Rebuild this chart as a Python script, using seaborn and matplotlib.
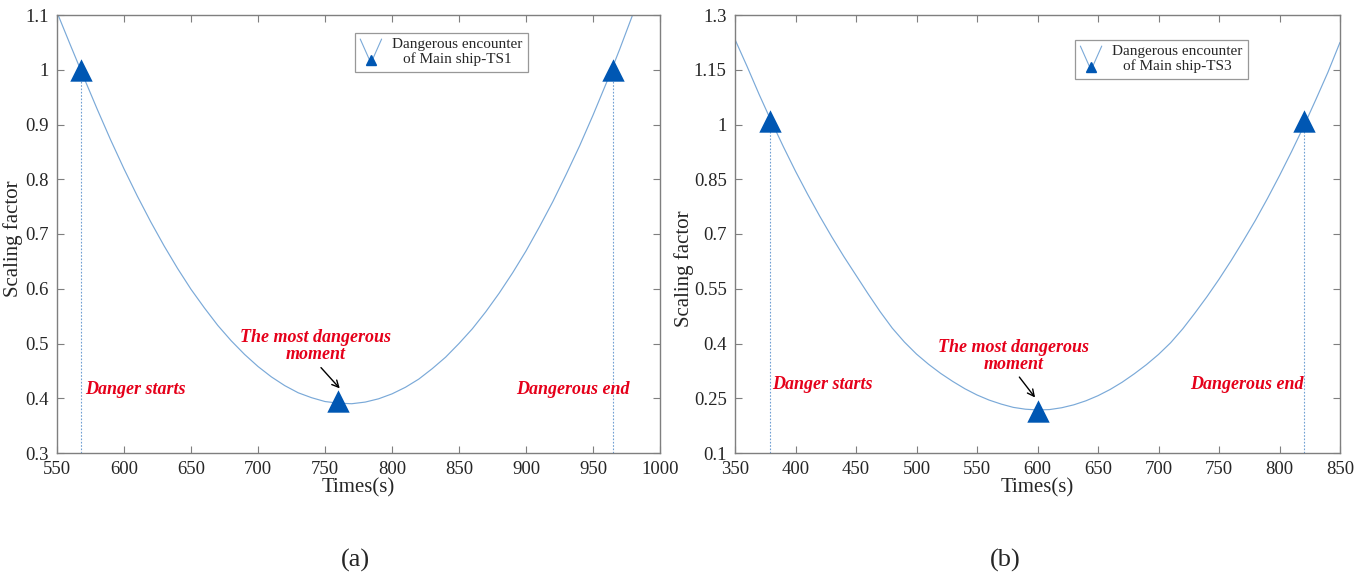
import matplotlib
matplotlib.use("Agg")
import matplotlib.pyplot as plt
import seaborn as sns
import pandas as pd
from matplotlib.legend_handler import HandlerBase
from matplotlib.lines import Line2D

sns.set_theme(style="white")
plt.rcParams['font.family'] = ['Liberation Serif', 'DejaVu Serif']

# ---------------- data ----------------
t1 = [550, 560, 570, 580, 590, 600, 610, 620, 630, 640, 650, 660, 670, 680, 690,
      700, 710, 720, 730, 740, 750, 760, 770, 780, 790, 800, 810, 820, 830, 840,
      850, 860, 870, 880, 890, 900, 910, 920, 930, 940, 950, 960, 970, 980, 990]
s1 = [1.105, 1.045, 0.986, 0.928, 0.872, 0.819, 0.769, 0.722, 0.678, 0.637,
      0.599, 0.565, 0.533, 0.505, 0.480, 0.458, 0.439, 0.423, 0.410, 0.401,
      0.394, 0.391, 0.390, 0.393, 0.399, 0.408, 0.420, 0.435, 0.454, 0.475,
      0.500, 0.527, 0.558, 0.592, 0.629, 0.669, 0.713, 0.759, 0.809, 0.861,
      0.917, 0.976, 1.038, 1.103, 1.171]
key_t1 = [568, 760, 965]
key_s1 = [1.0, 0.395, 1.0]

t2 = [350, 360, 370, 380, 390, 400, 410, 420, 430, 440, 450, 460, 470, 480, 490,
      500, 510, 520, 530, 540, 550, 560, 570, 580, 590, 600, 610, 620, 630, 640,
      650, 660, 670, 680, 690, 700, 710, 720, 730, 740, 750, 760, 770, 780, 790,
      800, 810, 820, 830, 840, 850]
s2 = [1.233, 1.159, 1.082, 1.009, 0.939, 0.872, 0.809, 0.749, 0.692, 0.638,
      0.587, 0.536, 0.487, 0.442, 0.404, 0.371, 0.343, 0.318, 0.296, 0.276,
      0.259, 0.245, 0.234, 0.225, 0.220, 0.218, 0.219, 0.224, 0.232, 0.243,
      0.257, 0.274, 0.294, 0.317, 0.342, 0.370, 0.402, 0.440, 0.483, 0.528,
      0.576, 0.627, 0.681, 0.737, 0.797, 0.860, 0.926, 0.995, 1.068, 1.143, 1.225]
key_t2 = [379, 600, 820]
key_s2 = [1.01, 0.216, 1.01]

yticks1 = [0.3, 0.4, 0.5, 0.6, 0.7, 0.8, 0.9, 1.0, 1.1]
ylabels1 = ['0.3', '0.4', '0.5', '0.6', '0.7', '0.8', '0.9', '1', '1.1']
xticks1 = [550, 600, 650, 700, 750, 800, 850, 900, 950, 1000]
yticks2 = [0.1, 0.25, 0.4, 0.55, 0.7, 0.85, 1.0, 1.15, 1.3]
ylabels2 = ['0.1', '0.25', '0.4', '0.55', '0.7', '0.85', '1', '1.15', '1.3']
xticks2 = [350, 400, 450, 500, 550, 600, 650, 700, 750, 800, 850]

legend1 = "Dangerous encounter\nof Main ship-TS1"
legend2 = "Dangerous encounter\nof Main ship-TS3"

LINE_C = '#7aa9d8'
DOT_C = '#6f9fd3'
MARK_C = '#0057b3'
RED = '#e5001a'
FRAME = '#7f7f7f'


class VHandler(HandlerBase):
    def create_artists(self, legend, orig_handle, xdescent, ydescent,
                       width, height, fontsize, trans):
        x0, y0 = -xdescent, -ydescent
        w, h = width, height
        l1 = Line2D([x0, x0 + w * 0.5, x0 + w], [y0 + h * 1.7, y0 - h * 0.55, y0 + h * 1.7],
                    color=LINE_C, lw=0.8, transform=trans)
        m = Line2D([x0 + w * 0.5], [y0 - h * 0.3], marker='^', color=MARK_C,
                   markersize=6.5, linestyle='None', transform=trans)
        return [l1, m]


fig = plt.figure(figsize=(13.69, 5.81), dpi=100)
ax1 = fig.add_axes([57 / 1369, 128 / 581, 603 / 1369, 438 / 581])
ax2 = fig.add_axes([735 / 1369, 128 / 581, 605 / 1369, 438 / 581])


def draw(ax, t, s, kt, ks, xlim, ylim, xticks, yticks, ylabels, leg, legpos,
         mid_text, arrow, start_pos, end_pos, ylab_pos):
    df = pd.DataFrame({'t': t, 's': s})
    sns.lineplot(data=df, x='t', y='s', ax=ax, color=LINE_C, lw=0.85)
    for xt, yt in zip([kt[0], kt[2]], [ks[0], ks[2]]):
        ax.plot([xt, xt], [ylim[0], yt], ls=(0, (1.5, 1.5)), color=DOT_C, lw=0.8)
    sns.scatterplot(x=kt, y=ks, ax=ax, marker='^', s=260, color=MARK_C,
                    edgecolor=MARK_C, linewidth=0, zorder=5)
    ax.set_xlim(*xlim)
    ax.set_ylim(*ylim)
    ax.set_xticks(xticks)
    ax.set_xticklabels([str(v) for v in xticks])
    ax.set_yticks(yticks)
    ax.set_yticklabels(ylabels)
    ax.tick_params(direction='in', length=5, width=0.8, color=FRAME,
                   labelsize=13.5, labelcolor='#262626', top=True, right=True,
                   bottom=True, left=True, labeltop=False, labelright=False, pad=6)
    for sp in ax.spines.values():
        sp.set_color(FRAME)
        sp.set_linewidth(1.0)
    ax.set_xlabel('Times(s)', fontsize=15, color='#262626', labelpad=0)
    ax.set_ylabel('Scaling factor', fontsize=15, color='#262626', va='center')
    ax.yaxis.set_label_coords(*ylab_pos)
    h = Line2D([], [])
    lg = ax.legend([h], [leg], handler_map={Line2D: VHandler()}, loc='upper left',
                   bbox_to_anchor=legpos, frameon=True, fancybox=False,
                   fontsize=11, handlelength=1.4, handletextpad=0.7,
                   borderpad=0.35, labelspacing=0.2, borderaxespad=0)
    lg.get_frame().set_edgecolor(FRAME)
    lg.get_frame().set_linewidth(0.9)
    for tx in lg.get_texts():
        tx.set_multialignment('center')
        tx.set_linespacing(1.1)
    ax.text(mid_text[0], mid_text[1], 'The most dangerous\nmoment', color=RED,
            fontsize=13, style='italic', weight='bold', ha='center', va='center',
            linespacing=1.0)
    ax.annotate('', xy=arrow[1], xytext=arrow[0],
                arrowprops=dict(arrowstyle='->', color='black', lw=1.0,
                                shrinkA=0, shrinkB=0))
    ax.text(start_pos[0], start_pos[1], 'Danger starts', color=RED, fontsize=13,
            style='italic', weight='bold', ha='left', va='center')
    ax.text(end_pos[0], end_pos[1], 'Dangerous end', color=RED, fontsize=13,
            style='italic', weight='bold', ha='right', va='center')


draw(ax1, t1, s1, key_t1, key_s1, (550, 1000), (0.3, 1.1), xticks1, yticks1, ylabels1,
     legend1, (0.494, 0.959), (743, 0.495), ((747, 0.456), (761, 0.418)),
     (571, 0.416), (977, 0.416), (-0.073, 0.49))
draw(ax2, t2, s2, key_t2, key_s2, (350, 850), (0.1, 1.3), xticks2, yticks2, ylabels2,
     legend2, (0.562, 0.943), (580, 0.367), ((585, 0.308), (598, 0.252)),
     (381, 0.289), (820, 0.289), (-0.084, 0.42))

fig.text(355 / 1369, 1 - 560 / 581, '(a)', fontsize=19, ha='center', va='center')
fig.text(1005 / 1369, 1 - 560 / 581, '(b)', fontsize=19, ha='center', va='center')

fig.savefig('out.png', dpi=100)
